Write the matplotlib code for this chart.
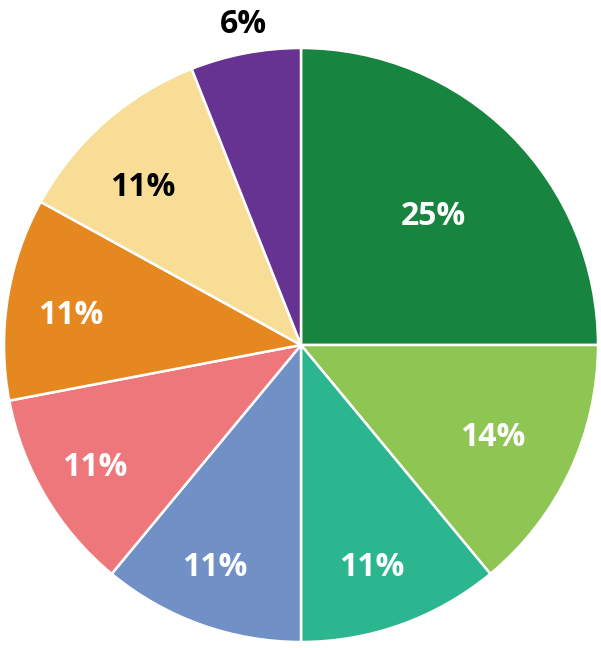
import numpy as np
import matplotlib
matplotlib.use("Agg")
import matplotlib.pyplot as plt

shares = [25, 14, 11, 11, 11, 11, 11, 6]
labels = ["25%", "14%", "11%", "11%", "11%", "11%", "11%", "6%"]
colors = ["#17843f", "#8fc553", "#2bb68f", "#7090c6",
          "#ee777b", "#e5881f", "#f7dd95", "#663393"]
text_colors = ["white"] * 6 + ["black", "black"]
# label placement: distance from centre (radius units) and angle nudge (deg)
label_r = [0.629, 0.713, 0.778, 0.794, 0.803, 0.784, 0.760, 1.106]
label_da = [0.2, -0.2, 2.0, 1.7, 0.5, -1.0, -3.2, 0.7]

fs = 23
fig = plt.figure(figsize=(6.01, 6.48), dpi=100)
ax = fig.add_axes([4 / 601, 6 / 648, 594 / 601, 594 / 648])
wedges, _ = ax.pie(shares, colors=colors, startangle=90, counterclock=False,
                   radius=1, wedgeprops=dict(edgecolor="white", linewidth=1.8))
ax.set_xlim(-1, 1)
ax.set_ylim(-1, 1)
ax.axis("off")

cum = np.cumsum([0] + shares[:-1])
for s, c0, lab, tc, r, da in zip(shares, cum, labels, text_colors, label_r, label_da):
    ang = np.deg2rad(90 - (c0 + s / 2) * 3.6 - da)
    ax.annotate(lab, (r * np.cos(ang), r * np.sin(ang)),
                xytext=(0, -0.714 * fs / 2), textcoords="offset points",
                ha="center", va="baseline", color=tc, fontsize=fs,
                fontweight="bold", family="Open Sans", annotation_clip=False)

fig.savefig("out.png", dpi=100)
